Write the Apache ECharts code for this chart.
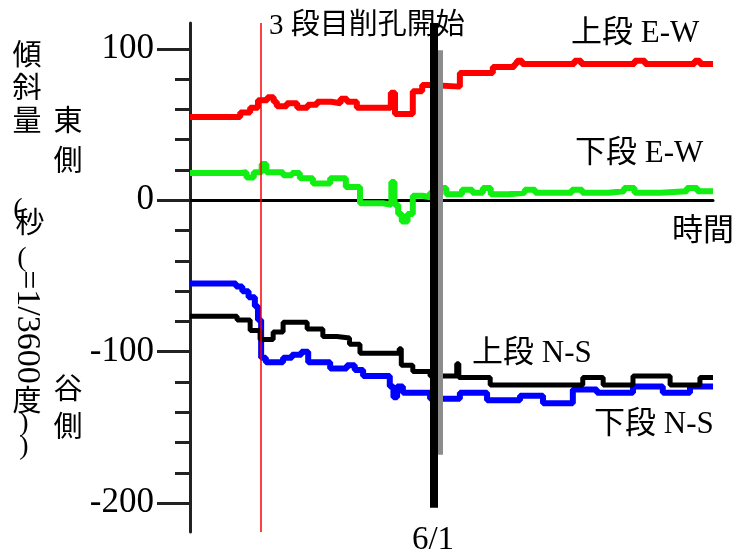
<!DOCTYPE html>
<html>
<head>
<meta charset="utf-8">
<script src="https://cdn.jsdelivr.net/npm/echarts@6/dist/echarts.min.js"></script>
<style>
  html, body { margin: 0; padding: 0; background: #fff; }
  #chart { width: 738px; height: 554px; }
</style>
</head>
<body>
<div id="chart"></div>
<script>
// Tilt readings (seconds of arc), [time, value] pairs; time runs 0..100 across the plot.
const upperEW = [
  [0, 55], [9.6, 58], [11.5, 61], [13.0, 66], [14.8, 68], [16.0, 65], [16.6, 62], [18.5, 64],
  [20.5, 61], [22.5, 63], [24.3, 65], [27, 64], [28.8, 67], [30.0, 65], [31.9, 61], [38.4, 71],
  [39.2, 57], [42.6, 72], [44.4, 76], [45.9, 75], [51.6, 84], [57.9, 88], [62.0, 90], [62.5, 92],
  [63.5, 90], [73.5, 92], [74.8, 90], [85, 92], [87, 90], [96.5, 92], [97.5, 90], [100, 90]
];
const lowerEW = [
  [0, 18], [9.6, 18.5], [10.8, 15], [12.2, 18.5], [13.7, 24], [14.6, 18.5], [17.8, 16.5], [19.5, 18],
  [21, 14.5], [23.5, 11], [26.8, 14.5], [29.8, 8.7], [32.5, -2], [36.9, -3], [38.5, 12], [39.1, -3],
  [39.8, -9], [40.5, -14], [41.6, -9], [42.6, 3], [44.5, 2], [45.9, 5], [47.5, 8], [49, 4], [52, 7],
  [54, 5], [56, 8], [57.5, 4], [61, 5], [64, 7], [66, 5], [70, 5], [73, 7], [75, 5], [80, 6],
  [83, 8], [85, 5], [90, 6], [95, 8], [97, 6], [100, 6]
];
const lowerNS = [
  [0, -55], [8.8, -57], [10.0, -60], [11.2, -64], [12.4, -70], [13.0, -79], [13.6, -104], [14.5, -107],
  [17.8, -104], [19.5, -102], [21.3, -100], [22.6, -107], [26.8, -111], [30, -109], [31.5, -112],
  [33.1, -116], [38.2, -123], [38.9, -130], [39.6, -123], [40.7, -127], [45.9, -131], [51.6, -127],
  [56.8, -132], [63.1, -129], [67.5, -134], [73.2, -125], [77.8, -127], [84.7, -123], [90.4, -127],
  [95.6, -123], [100, -123]
];
const upperNS = [
  [0, -76.5], [9, -79], [11.5, -86], [13.4, -92], [15.9, -87], [17.8, -80.5], [22.4, -85], [25.4, -90],
  [28.1, -91], [30.5, -95], [32.5, -101], [40.0, -98], [40.4, -109], [42.6, -113], [45.9, -116],
  [51.0, -108], [51.4, -117], [57.4, -122], [75.1, -117], [79, -122], [84.7, -116], [91.8, -122],
  [97.5, -117], [100, -117]
];

// Events on the time axis
const drillStart = 13.6;   // start of third-stage drilling
const dateJune1 = 46.65;   // 6/1

// Y axis ticks and labels
const yTickValues = [100, 80, 60, 40, 20, 0, -20, -40, -60, -80, -100, -120, -140, -160, -180, -200];
const yLabelValues = [100, 0, -100, -200];

const FONT = "'Liberation Serif','Noto Sans CJK JP',serif";
const CJK = "'Noto Sans CJK JP','Liberation Serif',serif";

function txt(text, x, y, size, opts) {
  opts = opts || {};
  return {
    type: 'text', x: x, y: y, rotation: opts.rotation || 0, z: 0,
    style: {
      text: text, fill: '#000', fontSize: size, fontFamily: opts.family || FONT,
      align: opts.align || 'left', verticalAlign: 'middle'
    }
  };
}

const chart = echarts.init(document.getElementById('chart'));

const lineSeries = (name, data, color, width) => ({
  name: name, type: 'line', data: data, step: 'end', symbol: 'none',
  lineStyle: { color: color, width: width }, silent: true, animation: false
});

chart.setOption({
  backgroundColor: '#fff',
  animation: false,
  grid: { left: 190, right: 25, top: 23, bottom: 22 },
  xAxis: {
    type: 'value', min: 0, max: 100,
    axisLine: { onZero: true, lineStyle: { color: '#000', width: 3 } },
    axisTick: { show: false }, axisLabel: { show: false }, splitLine: { show: false }
  },
  yAxis: [
    {
      type: 'value', min: -219, max: 117, position: 'left',
      axisLine: { show: true, onZero: false, lineStyle: { color: '#222', width: 3 } },
      axisTick: { show: true, customValues: yTickValues, length: 15, lineStyle: { color: '#222', width: 3 } },
      axisLabel: { show: false }, splitLine: { show: false }
    },
    {
      type: 'value', min: -219, max: 117, position: 'left',
      axisLine: { show: false },
      axisTick: { show: true, customValues: yLabelValues, length: 33, lineStyle: { color: '#222', width: 3 } },
      axisLabel: { show: true, customValues: yLabelValues, margin: 36, fontSize: 35, fontFamily: 'Liberation Serif', color: '#000' },
      splitLine: { show: false }
    }
  ],
  graphic: [
    txt('3 段目削孔開始', 269, 26, 29),
    txt('上段 E-W', 571, 34, 31),
    txt('下段 E-W', 575, 154, 31),
    txt('時間', 672, 228, 31, { family: CJK }),
    txt('上段 N-S', 472, 354, 31),
    txt('下段 N-S', 594, 425, 31),
    txt('6/1', 433, 540, 33, { align: 'center' }),
    // vertical axis title, first column
    txt('傾', 27, 54, 29, { align: 'center', family: CJK }),
    txt('斜', 27, 87, 29, { align: 'center', family: CJK }),
    txt('量', 27, 120, 29, { align: 'center', family: CJK }),
    txt('(', 18, 210, 28, { align: 'center' }),
    txt('秒', 30, 222, 29, { align: 'center', family: CJK }),
    txt('(', 22, 259, 28, { align: 'center' }),
    txt('=1/3600', 27, 327, 34, { align: 'center', rotation: -Math.PI / 2 }),
    txt('度', 27, 400, 29, { align: 'center', family: CJK }),
    txt(')', 24, 424, 28, { align: 'center' }),
    txt(')', 24, 447, 28, { align: 'center' }),
    // second column
    txt('東', 68, 120, 29, { align: 'center', family: CJK }),
    txt('側', 68, 160, 29, { align: 'center', family: CJK }),
    txt('谷', 68, 388, 29, { align: 'center', family: CJK }),
    txt('側', 68, 426, 29, { align: 'center', family: CJK })
  ],
  series: [
    lineSeries('上段 E-W', upperEW, '#ff0000', 6),
    lineSeries('下段 E-W', lowerEW, '#11ee11', 6),
    lineSeries('下段 N-S', lowerNS, '#0000ff', 6),
    lineSeries('上段 N-S', upperNS, '#000000', 5),
    {
      name: 'events', type: 'line', data: [], clip: false, silent: true, z: 5,
      markLine: {
        symbol: 'none', silent: true, animation: false, label: { show: false },
        data: [
          [{ coord: [drillStart, 117], lineStyle: { color: '#ff0000', width: 1.5, type: 'solid' } },
           { coord: [drillStart, -219] }],
          [{ coord: [dateJune1 + 1.05, 99], lineStyle: { color: '#8c8c8c', width: 6, type: 'solid' } },
           { coord: [dateJune1 + 1.05, -168] }],
          [{ coord: [dateJune1, 117], lineStyle: { color: '#000', width: 8, type: 'solid' } },
           { coord: [dateJune1, -203] }]
        ]
      }
    }
  ]
});
</script>
</body>
</html>
